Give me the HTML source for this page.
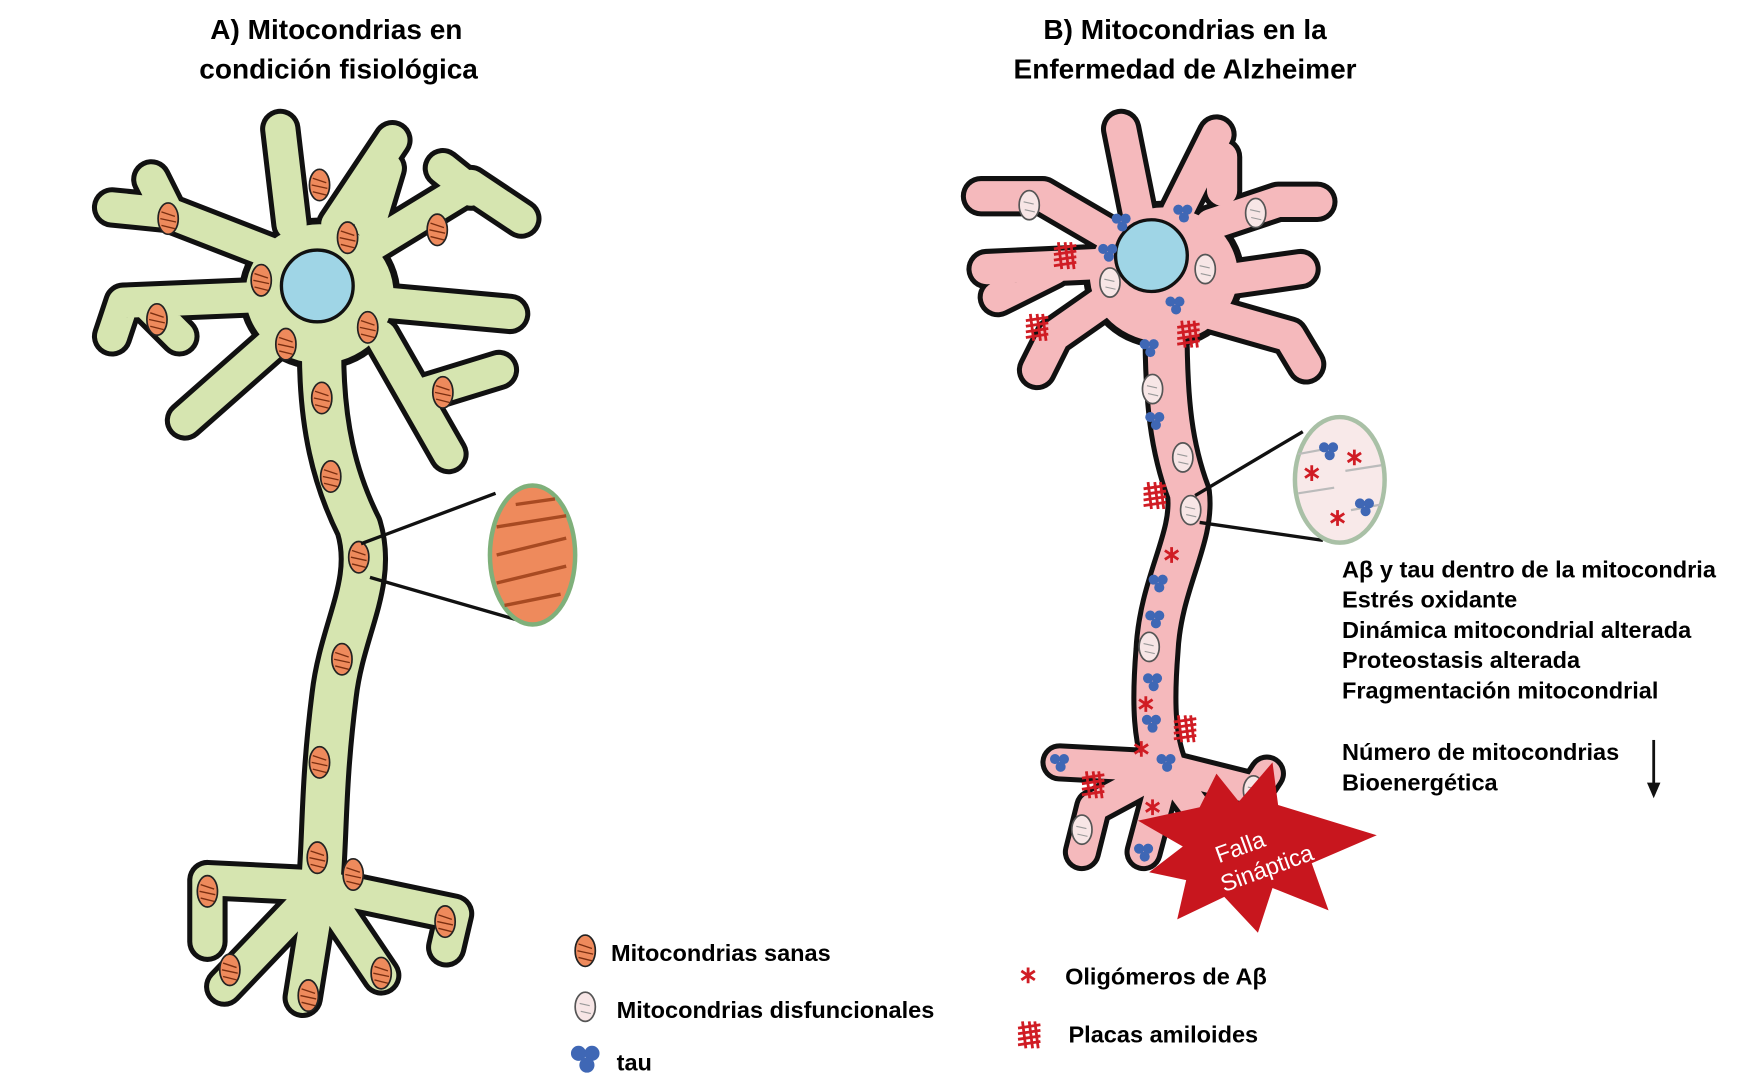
<!DOCTYPE html>
<html><head><meta charset="utf-8"><style>
html,body{margin:0;padding:0;background:#fff;}
svg{display:block;font-family:"Liberation Sans",Arial,sans-serif;font-weight:bold;}
</style></head><body>
<svg width="1749" height="1092" viewBox="0 0 1560 974" xmlns="http://www.w3.org/2000/svg">
<defs>
<g id="m"><ellipse cx="0" cy="0" rx="9" ry="14" fill="#ee8a5c" stroke="#222" stroke-width="1.5"/><path d="M-6,-6 L6,-2 M-7,0 L7,3 M-6,6 L6,9" stroke="#7a2e10" stroke-width="1.2"/></g>
<g id="d"><ellipse cx="0" cy="0" rx="9" ry="13" fill="#f7e6e6" stroke="#555" stroke-width="1.5"/><path d="M-5,-3 L4,-1 M-4,4 L5,6" stroke="#999" stroke-width="1"/></g>
<g id="t" fill="#3f67b5"><circle cx="-4" cy="-3" r="4.5"/><circle cx="4" cy="-3" r="4.5"/><circle cx="1" cy="4" r="4.5"/></g>
<g id="a" stroke="#d01c24" stroke-width="2.5"><path d="M0,-7 V7 M-6,-4 L6,4 M-6,4 L6,-4"/></g>
<g id="p" stroke="#d01c24" stroke-width="2.5"><path d="M-10,-6 L10,-9 M-10,-1 L10,-4 M-10,4 L10,1 M-10,9 L10,6 M-6,-12 L-3,12 M0,-12 L3,12 M5,-12 L8,12"/></g>
</defs>

<text x="300" y="35" font-size="25" text-anchor="middle">A) Mitocondrias en</text>
<text x="302" y="70" font-size="25" text-anchor="middle">condición fisiológica</text>
<text x="1057" y="35" font-size="25" text-anchor="middle">B) Mitocondrias en la</text>
<text x="1057" y="70" font-size="25" text-anchor="middle">Enfermedad de Alzheimer</text>

<g fill="none" stroke-linecap="round" stroke-linejoin="round">
<g stroke="#111">
<ellipse cx="285" cy="262" rx="72" ry="68" fill="#111" stroke="none"/>
<path stroke-width="36" d="M260,200 L250,115 M300,200 L350,125 M240,225 L150,190 L100,185 M150,190 L135,160 M230,265 L110,270 L100,300 M130,270 L160,300 M250,300 L165,375 M330,220 L420,165 L465,195 M420,170 L395,150 M345,270 L455,280 M340,300 L400,405 M380,350 L445,330 M330,200 L345,150"/>
<path stroke-width="44" d="M287,300 C285,380 300,430 320,470 C335,520 305,560 298,620 C288,700 290,740 286,790"/>
<path stroke-width="36" d="M286,790 L185,785 L185,840 M286,790 L200,880 M286,790 L270,890 M286,790 L340,870 M286,790 L405,815 L398,845"/>
</g>
<g stroke="#d6e5b0">
<ellipse cx="285" cy="262" rx="66" ry="62" fill="#d6e5b0" stroke="none"/>
<path stroke-width="27" d="M260,200 L250,115 M300,200 L350,125 M240,225 L150,190 L100,185 M150,190 L135,160 M230,265 L110,270 L100,300 M130,270 L160,300 M250,300 L165,375 M330,220 L420,165 L465,195 M420,170 L395,150 M345,270 L455,280 M340,300 L400,405 M380,350 L445,330 M330,200 L345,150"/>
<path stroke-width="35" d="M287,300 C285,380 300,430 320,470 C335,520 305,560 298,620 C288,700 290,740 286,790"/>
<path stroke-width="27" d="M286,790 L185,785 L185,840 M286,790 L200,880 M286,790 L270,890 M286,790 L340,870 M286,790 L405,815 L398,845"/>
</g>
</g>
<circle cx="283" cy="255" r="32" fill="#9fd5e6" stroke="#111" stroke-width="3"/>
<g>
<use href="#m" x="285" y="165"/><use href="#m" x="310" y="212"/><use href="#m" x="150" y="195"/><use href="#m" x="233" y="250"/><use href="#m" x="140" y="285"/><use href="#m" x="255" y="307"/><use href="#m" x="328" y="292"/><use href="#m" x="390" y="205"/><use href="#m" x="395" y="350"/><use href="#m" x="287" y="355"/><use href="#m" x="295" y="425"/><use href="#m" x="320" y="497"/><use href="#m" x="305" y="588"/><use href="#m" x="285" y="680"/><use href="#m" x="283" y="765"/><use href="#m" x="185" y="795"/><use href="#m" x="315" y="780"/><use href="#m" x="205" y="865"/><use href="#m" x="275" y="888"/><use href="#m" x="340" y="868"/><use href="#m" x="397" y="822"/>
</g>
<path d="M322,485 L442,440 M330,515 L472,556" stroke="#111" stroke-width="3"/>
<ellipse cx="475" cy="495" rx="38" ry="62" fill="#ee8a5c" stroke="#7fb07a" stroke-width="4"/>
<path d="M443,470 L505,460 M443,495 L505,480 M443,520 L505,505 M450,540 L500,530 M460,450 L495,445" stroke="#a84a22" stroke-width="3"/>

<g fill="none" stroke-linecap="round" stroke-linejoin="round">
<g stroke="#111">
<ellipse cx="1038" cy="245" rx="72" ry="66" fill="#111" stroke="none"/>
<path stroke-width="36" d="M1015,190 L1000,115 M1050,190 L1085,120 M990,210 L930,175 L875,175 M990,235 L880,240 M940,240 L890,265 M990,265 L940,300 L925,330 M1080,200 L1140,180 L1175,180 M1090,250 L1160,240 M1080,280 L1150,300 L1165,325 M1090,170 L1090,140"/>
<path stroke-width="42" d="M1040,290 C1040,360 1045,400 1060,440 C1065,480 1035,520 1032,580 C1028,630 1030,660 1040,685"/>
<path stroke-width="34" d="M1040,685 L945,680 M1040,685 L975,720 L965,760 M1040,685 L1020,760 M1040,685 L1085,745 M1040,685 L1120,705 L1130,690"/>
</g>
<g stroke="#f5b9bc">
<ellipse cx="1038" cy="245" rx="66" ry="60" fill="#f5b9bc" stroke="none"/>
<path stroke-width="27" d="M1015,190 L1000,115 M1050,190 L1085,120 M990,210 L930,175 L875,175 M990,235 L880,240 M940,240 L890,265 M990,265 L940,300 L925,330 M1080,200 L1140,180 L1175,180 M1090,250 L1160,240 M1080,280 L1150,300 L1165,325 M1090,170 L1090,140"/>
<path stroke-width="33" d="M1040,290 C1040,360 1045,400 1060,440 C1065,480 1035,520 1032,580 C1028,630 1030,660 1040,685"/>
<path stroke-width="25" d="M1040,685 L945,680 M1040,685 L975,720 L965,760 M1040,685 L1020,760 M1040,685 L1085,745 M1040,685 L1120,705 L1130,690"/>
</g>
</g>
<circle cx="1027" cy="228" r="32" fill="#9fd5e6" stroke="#111" stroke-width="3"/>
<g>
<use href="#d" x="918" y="183"/><use href="#d" x="1120" y="190"/><use href="#d" x="990" y="252"/><use href="#d" x="1075" y="240"/><use href="#d" x="1028" y="347"/><use href="#d" x="1055" y="408"/><use href="#d" x="1062" y="455"/><use href="#d" x="1025" y="577"/><use href="#d" x="1118" y="705"/><use href="#d" x="965" y="740"/>
<use href="#t" x="1000" y="198"/><use href="#t" x="1055" y="190"/><use href="#t" x="988" y="225"/><use href="#t" x="1048" y="272"/><use href="#t" x="1025" y="310"/><use href="#t" x="1030" y="375"/><use href="#t" x="1033" y="520"/><use href="#t" x="1030" y="552"/><use href="#t" x="1028" y="608"/><use href="#t" x="1027" y="645"/><use href="#t" x="1040" y="680"/><use href="#t" x="945" y="680"/><use href="#t" x="1020" y="760"/>
<use href="#a" x="1045" y="495"/><use href="#a" x="1022" y="628"/><use href="#a" x="1018" y="668"/><use href="#a" x="1028" y="720"/>
<use href="#p" x="950" y="228"/><use href="#p" x="925" y="292"/><use href="#p" x="1060" y="298"/><use href="#p" x="1030" y="442"/><use href="#p" x="1057" y="650"/><use href="#p" x="975" y="700"/>
</g>
<path d="M1066,442 L1162,385 M1070,466 L1180,482" stroke="#111" stroke-width="3"/>
<ellipse cx="1195" cy="428" rx="40" ry="56" fill="#f8e9e9" stroke="#a9c0a6" stroke-width="4"/>
<path d="M1158,405 L1185,400 M1158,440 L1190,435 M1205,455 L1232,450 M1200,420 L1232,415" stroke="#bbb" stroke-width="2"/>
<use href="#t" x="1185" y="402"/><use href="#t" x="1217" y="452"/>
<use href="#a" x="1208" y="408"/><use href="#a" x="1170" y="422"/><use href="#a" x="1193" y="462"/>

<polygon points="1015,732 1070,720 1085,690 1105,715 1135,680 1140,718 1228,745 1170,770 1185,812 1135,792 1122,832 1092,800 1050,820 1058,785 1025,778 1055,755" fill="#c8161e"/>
<text x="1122" y="770" font-size="21" fill="#fff" text-anchor="middle" font-weight="normal" transform="rotate(-20 1122 770)"><tspan x="1112" dy="-12">Falla</tspan><tspan x="1128" dy="26">Sináptica</tspan></text>

<g font-size="21">
<text x="1197" y="515">Aβ y tau dentro de la mitocondria</text>
<text x="1197" y="542">Estrés oxidante</text>
<text x="1197" y="569">Dinámica mitocondrial alterada</text>
<text x="1197" y="596">Proteostasis alterada</text>
<text x="1197" y="623">Fragmentación mitocondrial</text>
<text x="1197" y="678">Número de mitocondrias</text>
<text x="1197" y="705">Bioenergética</text>
</g>
<path d="M1475,660 V700" stroke="#111" stroke-width="2.5"/><polygon points="1469,698 1481,698 1475,712" fill="#111"/>

<use href="#m" x="522" y="848"/><text x="545" y="857" font-size="21">Mitocondrias sanas</text>
<use href="#d" x="522" y="898"/><text x="550" y="908" font-size="21">Mitocondrias disfuncionales</text>
<g transform="translate(522,944) scale(1.5)"><use href="#t"/></g><text x="550" y="955" font-size="21">tau</text>
<use href="#a" x="917" y="870"/><text x="950" y="878" font-size="21">Oligómeros de Aβ</text>
<use href="#p" x="918" y="923"/><text x="953" y="930" font-size="21">Placas amiloides</text>
</svg>
</body></html>
